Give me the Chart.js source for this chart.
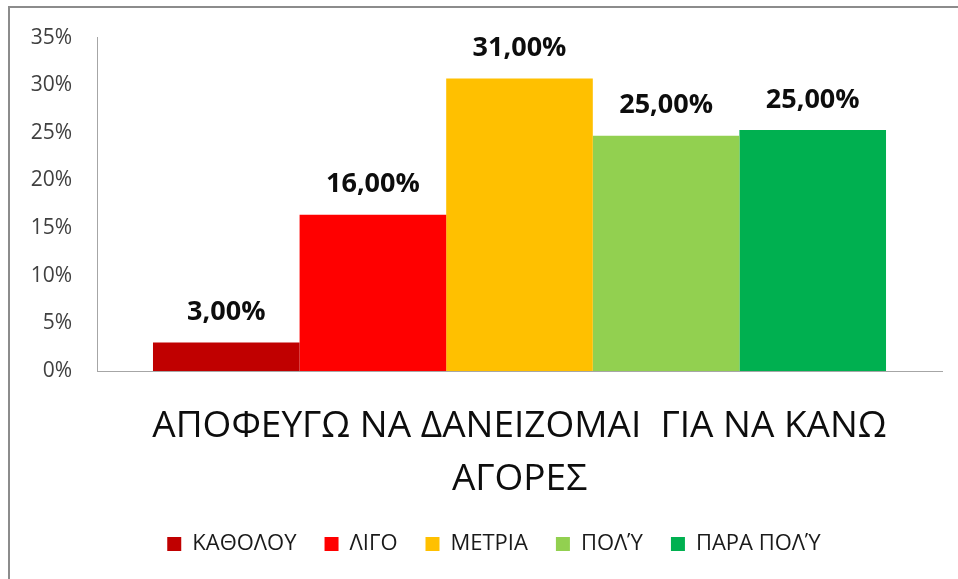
<!DOCTYPE html>
<html>
<head>
<meta charset="utf-8">
<script src="https://cdn.jsdelivr.net/npm/chart.js@4"></script>
<style>
    html, body { margin: 0; padding: 0; background: #fff; overflow: hidden; }
    #frame { position: absolute; left: 8px; top: 6px; width: 1000px; height: 1000px; border: 2px solid #8c8c8c; }
    #wrap { position: absolute; left: 0; top: 0; width: 958px; height: 579px; }
</style>
</head>
<body>
<div id="frame"></div>
<div id="wrap"><canvas id="chart"></canvas></div>
<script>
// Dados
const categories = [['ΑΠΟΦΕΥΓΩ ΝΑ ΔΑΝΕΙΖΟΜΑΙ  ΓΙΑ ΝΑ ΚΑΝΩ', 'ΑΓΟΡΕΣ']];
const seriesNames = ['ΚΑΘΟΛΟΥ', 'ΛΙΓΟ', 'ΜΕΤΡΙΑ', 'ΠΟΛΎ', 'ΠΑΡΑ ΠΟΛΎ'];
const seriesValues = [3.0, 16.4, 30.7, 24.7, 25.3];
const valueLabels = ['3,00%', '16,00%', '31,00%', '25,00%', '25,00%'];
const seriesColors = ['#c00000', '#ff0000', '#ffc000', '#92d050', '#00b050'];
const yMin = 0, yMax = 35, yStep = 5;

// Rótulos acima das barras
const valueLabelPlugin = {
    id: 'valueLabels',
    afterDatasetsDraw(chart) {
        const ctx = chart.ctx;
        ctx.save();
        ctx.font = 'bold 27px "Open Sans"';
        ctx.fillStyle = '#0d0d0d';
        ctx.textAlign = 'center';
        ctx.textBaseline = 'middle';
        chart.data.datasets.forEach((ds, i) => {
            const bar = chart.getDatasetMeta(i).data[0];
            ctx.fillText(valueLabels[i], bar.x, bar.y - 30);
        });
        ctx.restore();
    }
};

// Legenda centrada sob a área do gráfico
const legendShift = {
    id: 'legendShift',
    afterLayout(chart) {
        chart.legend.left += 23;
        chart.legend.right += 23;
    }
};

const ctx = document.getElementById('chart').getContext('2d');

new Chart(ctx, {
    type: 'bar',
    data: {
        labels: categories,
        datasets: seriesNames.map((name, i) => ({
            label: name,
            data: [seriesValues[i]],
            backgroundColor: seriesColors[i],
            borderWidth: 0,
            barPercentage: 1,
            categoryPercentage: 0.8675
        }))
    },
    options: {
        responsive: true,
        maintainAspectRatio: false,
        animation: false,
        layout: { padding: { left: 0, right: 16, top: 37, bottom: 14 } },
        plugins: {
            legend: {
                position: 'bottom',
                labels: {
                    boxWidth: 14,
                    boxHeight: 14,
                    padding: 28,
                    color: '#1a1a1a',
                    font: { family: 'Open Sans', size: 22 }
                }
            },
            tooltip: { enabled: false }
        },
        scales: {
            x: {
                grid: { display: false },
                border: { display: true, color: '#a6a6a6', width: 1 },
                ticks: {
                    color: '#0d0d0d',
                    padding: 21,
                    font: { family: 'Open Sans', size: 37, lineHeight: 1.43 }
                },
                afterFit: s => { s.height = 134; }
            },
            y: {
                min: yMin,
                max: yMax,
                grid: { display: false, drawTicks: false },
                border: { display: true, color: '#a6a6a6', width: 1 },
                ticks: {
                    stepSize: yStep,
                    padding: 25,
                    color: '#404040',
                    font: { family: 'Open Sans', size: 21 },
                    callback: v => v + '%'
                },
                afterFit: s => { s.width = 97; }
            }
        }
    },
    plugins: [valueLabelPlugin, legendShift]
});
</script>
</body>
</html>
